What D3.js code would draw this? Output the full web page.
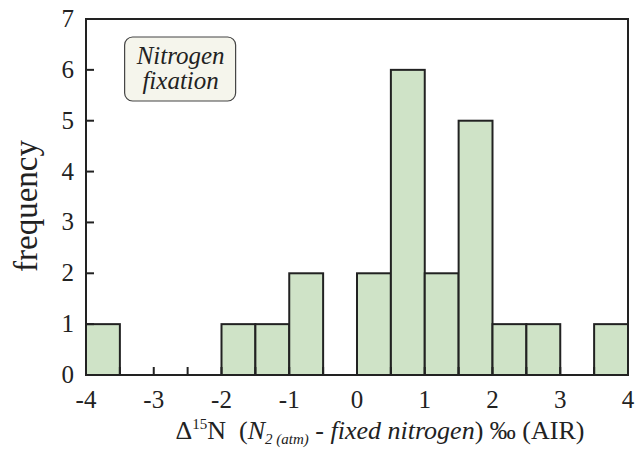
<!DOCTYPE html>
<html><head><meta charset="utf-8">
<script src="https://cdn.jsdelivr.net/npm/d3@7"></script>
<style>body{margin:0;background:#fff}svg{display:block}</style>
</head><body>
<script>
const binStarts = [-4,-3.5,-3,-2.5,-2,-1.5,-1,-0.5,0,0.5,1,1.5,2,2.5,3,3.5];
const binWidth = 0.5;
const counts = [1,0,0,0,1,1,2,0,2,6,2,5,1,1,0,1];
const xTickLabels = [-4,-3,-2,-1,0,1,2,3,4];
const yTickLabels = [0,1,2,3,4,5,6,7];

const W=638,H=456;
const svg=d3.select("body").append("svg").attr("width",W).attr("height",H);
const x=d3.scaleLinear().domain([-4,4]).range([86,628]);
const y=d3.scaleLinear().domain([0,7]).range([375,19]);
const font="Liberation Serif, serif";
const ink="#222";

// bars
svg.append("g").selectAll("rect").data(binStarts.map((s,i)=>({s,c:counts[i]})).filter(d=>d.c>0))
 .join("rect")
 .attr("x",d=>x(d.s)).attr("width",d=>x(d.s+binWidth)-x(d.s))
 .attr("y",d=>y(d.c)).attr("height",d=>y(0)-y(d.c))
 .attr("fill","#cfe3c7").attr("stroke",ink).attr("stroke-width",2);

// frame
svg.append("rect").attr("x",x(-4)).attr("y",y(7)).attr("width",x(4)-x(-4)).attr("height",y(0)-y(7))
 .attr("fill","none").attr("stroke",ink).attr("stroke-width",2);

// x ticks (every 0.5, inward)
const xt=d3.range(-4,4.001,0.5);
svg.append("g").selectAll("line").data(xt).join("line")
 .attr("x1",d=>x(d)).attr("x2",d=>x(d)).attr("y1",y(0)).attr("y2",y(0)-8)
 .attr("stroke",ink).attr("stroke-width",2);
svg.append("g").selectAll("line").data(yTickLabels).join("line")
 .attr("x1",x(-4)).attr("x2",x(-4)+8).attr("y1",d=>y(d)).attr("y2",d=>y(d))
 .attr("stroke",ink).attr("stroke-width",2);

// tick labels
svg.append("g").selectAll("text").data(xTickLabels).join("text")
 .attr("x",d=>x(d)).attr("y",408).attr("text-anchor","middle")
 .attr("font-family",font).attr("font-size",25).attr("fill",ink).text(d=>d);
svg.append("g").selectAll("text").data(yTickLabels).join("text")
 .attr("x",74).attr("y",d=>y(d)+8).attr("text-anchor","end")
 .attr("font-family",font).attr("font-size",25).attr("fill",ink).text(d=>d);

// y label
svg.append("text").attr("transform","translate(37,206) rotate(-90)").attr("text-anchor","middle")
 .attr("font-family",font).attr("font-size",33).attr("fill",ink).text("frequency");

// x label
const xl=svg.append("text").attr("x",380).attr("y",439).attr("text-anchor","middle")
 .attr("font-family",font).attr("font-size",26).attr("fill",ink);
xl.append("tspan").text("Δ");
xl.append("tspan").attr("font-size",15).attr("dy",-10).text("15");
xl.append("tspan").attr("dy",10).text("N\u00a0\u00a0(");
xl.append("tspan").attr("font-style","italic").text("N");
xl.append("tspan").attr("font-style","italic").attr("font-size",15).attr("dy",5).text("2 (atm)");
xl.append("tspan").attr("font-style","italic").attr("dy",-5).text(" - fixed nitrogen");
xl.append("tspan").text(") ‰ (AIR)");

// annotation box
svg.append("rect").attr("x",x(-3.43)).attr("y",37).attr("width",111).attr("height",64).attr("rx",8)
 .attr("fill","#f5f5ec").attr("stroke","#444").attr("stroke-width",1.2);
svg.append("text").attr("x",x(-3.43)+56).attr("y",64).attr("text-anchor","middle")
 .attr("font-family",font).attr("font-style","italic").attr("font-size",25).attr("fill",ink).text("Nitrogen");
svg.append("text").attr("x",x(-3.43)+56).attr("y",89).attr("text-anchor","middle")
 .attr("font-family",font).attr("font-style","italic").attr("font-size",25).attr("fill",ink).text("fixation");
</script>
</body></html>
